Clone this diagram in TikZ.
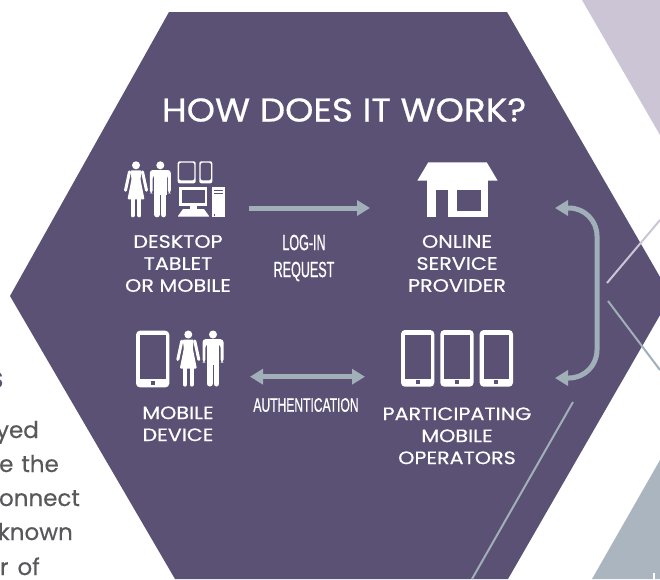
\documentclass[tikz,border=0pt]{standalone}
\usepackage{fontspec}
\usetikzlibrary{arrows.meta}
\setmainfont{Poppins}
\newfontfamily\capfont[FakeStretch=1.15,FakeBold=0.4]{Poppins}
\newfontfamily\titlefont[FakeStretch=1.09,FakeBold=0.6]{Poppins}
\newfontfamily\copyfont[FakeBold=0.4]{Poppins}
\newfontfamily\condA[FakeStretch=0.57,FakeBold=0.7]{Liberation Sans}
\newfontfamily\condB[FakeStretch=0.62,FakeBold=0.7]{Liberation Sans}
\definecolor{hexpurple}{HTML}{5B5174}
\definecolor{lilac}{HTML}{CBC5D5}
\definecolor{steel}{HTML}{A0AFB8}
\definecolor{slate}{HTML}{ABB5BF}
\definecolor{bodygray}{HTML}{58595B}
\tikzset{
  captiontext/.style={text=white,font=\capfont\fontsize{18}{22}\selectfont,align=center,inner sep=0pt},
  flow/.style={draw=steel,line width=5pt,{Triangle[length=13pt,width=15pt]}-{Triangle[length=13pt,width=15pt]}},
  flowone/.style={draw=steel,line width=5pt,-{Triangle[length=13pt,width=15pt]}},
  thinline/.style={line width=2pt},
  bodyline/.style={text=bodygray,font=\copyfont\fontsize{23}{23}\selectfont,anchor=base east,inner sep=0pt},
  device/.style={fill=white,rounded corners=4pt},
  hole/.style={fill=hexpurple},
}
\newcommand{\womanicon}[2]{%
  \begin{scope}[shift={(#1,#2)}]
    \fill[white] (0,4) circle (4);
    \fill[white,rounded corners=1pt] (-5.5,9) -- (5.5,9) -- (4.5,18) -- (8.5,38) -- (-8.5,38) -- (-4.5,18) -- cycle;
    \draw[white,line width=3pt,line cap=round] (-6.5,10.5) -- (-10.5,29);
    \draw[white,line width=3pt,line cap=round] (6.5,10.5) -- (10.5,29);
    \draw[white,line width=3.8pt,line cap=round] (-3.3,38) -- (-3.3,54.2);
    \draw[white,line width=3.8pt,line cap=round] (3.3,38) -- (3.3,54.2);
  \end{scope}}
\newcommand{\manicon}[2]{%
  \begin{scope}[shift={(#1,#2)}]
    \fill[white] (0,4) circle (4);
    \fill[white,rounded corners=3pt] (-10.5,32) -- (-10.5,8.7) -- (10.5,8.7) -- (10.5,32) -- (7.6,32) -- (7.6,14) -- (-7.6,14) -- (-7.6,32) -- cycle;
    \fill[white] (-6.2,10) rectangle (6.2,34);
    \draw[white,line width=5.6pt,line cap=round] (-3.3,30) -- (-3.3,53.2);
    \draw[white,line width=5.6pt,line cap=round] (3.3,30) -- (3.3,53.2);
  \end{scope}}
\newcommand{\phoneicon}[2]{%
  \begin{scope}[shift={(#1,#2)}]
    \fill[device] (0,0) rectangle (33.3,56.7);
    \fill[hole] (4,4.5) rectangle (29.5,48.5);
    \fill[hole] (14.7,49.8) rectangle (18.7,53.8);
  \end{scope}}
\begin{document}
\begin{tikzpicture}[x=1pt,y=-1pt]
\useasboundingbox (0,0) rectangle (660,579);
\fill[white] (0,0) rectangle (660,579);
% background shapes
\fill[lilac] (582,0) -- (660,0) -- (660,135) -- cycle;
\fill[slate] (660,460) -- (660,579) -- (592,579) -- cycle;
\fill[white] (652.5,573) rectangle (654.5,579);
\fill[hexpurple] (169,12) -- (507,12) -- (671,296) -- (508,579) -- (175,579) -- (10,296) -- cycle;
% decorative lines
\coordinate (lineAa) at (607,283);
\coordinate (lineAb) at (660,220);
\coordinate (lineBa) at (608,301);
\coordinate (lineBb) at (660,370);
\coordinate (lineCa) at (573,402);
\coordinate (lineCb) at (472,579);
\draw[lilac,thinline] (lineAa) -- (lineAb);
\draw[steel,thinline] (lineBa) -- (lineBb);
\draw[steel,thinline] (lineCa) -- (lineCb);
% left body text
\node[text=hexpurple,font=\fontsize{23}{23}\selectfont\bfseries,anchor=base east,inner sep=0pt] (headS) at (3.5,388) {S};
\node[bodyline] (bodyA) at (39,438) {yed};
\node[bodyline] (bodyB) at (59,472) {e\hspace{8pt}the};
\node[bodyline] (bodyC) at (80,506) {onnect};
\node[bodyline] (bodyD) at (73,540) {known};
\node[bodyline] (bodyE) at (40,575) {r\hspace{9pt}of};
% title
\node[text=white,font=\titlefont\fontsize{33}{33}\selectfont,inner sep=0pt] (title) at (344,110) {HOW DOES IT WORK?};
% desktop icon group
\womanicon{136}{161.3}
\manicon{160.3}{161.3}
\fill[device,rounded corners=2pt,even odd rule] (177.7,161.3) rectangle (195.7,183.3) (179,162.6) rectangle (194.4,180.4);
\fill[device,rounded corners=2pt,even odd rule] (199.3,161.3) rectangle (212.3,183.3) (200.6,162.6) rectangle (211,180.4);
\fill[white] (179.3,187) rectangle (207.3,205.7);
\fill[hole] (182,189.5) rectangle (204.6,203);
\fill[white] (190,205.7) rectangle (196.7,209);
\fill[white] (183,209) -- (204,209) -- (209,216) -- (178,216) -- cycle;
\fill[lilac] (177.7,216) rectangle (209,217.3);
\fill[white] (212,187) rectangle (224.7,217.3);
\fill[hole] (214,190) rectangle (222.7,190.8);
\fill[hole] (214,193.2) rectangle (222.7,194);
\fill[hole] (213.5,214.4) rectangle (214.8,215.7);
% shop icon
\fill[white] (428.3,162.3) -- (486.7,162.3) -- (497.7,180.7) -- (417.3,180.7) -- cycle;
\fill[white] (426.7,180) rectangle (488.3,217.3);
\fill[hole] (435.7,190) rectangle (448.3,217.5);
\fill[hole] (457.3,190) rectangle (481,211);
% mobile device icons
\phoneicon{136}{330.7}
\womanicon{188.3}{330.5}
\manicon{213}{330.5}
\phoneicon{401}{330}
\phoneicon{440.3}{330}
\phoneicon{479.7}{330}
% captions
\node[captiontext] (desk) at (178,263.5) {DESKTOP\\TABLET\\OR MOBILE};
\node[captiontext] (online) at (457,263.5) {ONLINE\\SERVICE\\PROVIDER};
\node[captiontext] (mobile) at (178,423.8) {MOBILE\\DEVICE};
\node[captiontext] (operators) at (457,435.8) {PARTICIPATING\\MOBILE\\OPERATORS};
\node[text=white,font=\condA\fontsize{22}{27}\selectfont,align=center,inner sep=0pt] (login) at (304,258) {LOG-IN\\REQUEST};
\node[text=white,font=\condB\fontsize{19.5}{20}\selectfont,inner sep=0pt] (auth) at (306,405) {AUTHENTICATION};
% connectors
\coordinate (deskOut) at (249,208);
\coordinate (shopIn) at (370,208);
\coordinate (mobileEnd) at (250,376.7);
\coordinate (operEnd) at (365,376.7);
\coordinate (shopRight) at (555,208);
\coordinate (operRight) at (555,378);
\draw[flowone] (deskOut) -- (shopIn);
\draw[flow] (mobileEnd) -- (operEnd);
\draw[flow,rounded corners=28pt] (shopRight) -- (597,208) -- (597,378) -- (operRight);
\end{tikzpicture}
\end{document}
